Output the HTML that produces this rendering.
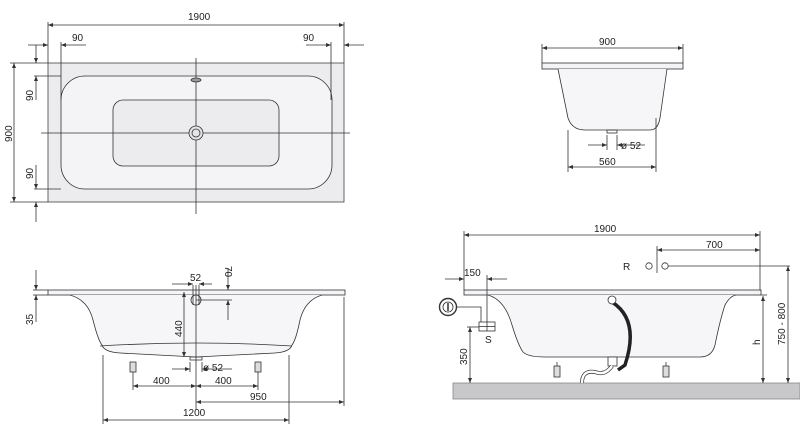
<!DOCTYPE html>
<html><head><meta charset="utf-8"><style>
html,body{margin:0;padding:0;background:#fff;width:800px;height:429px;overflow:hidden}
svg{display:block}
text{font-family:"Liberation Sans",sans-serif;font-size:10px;fill:#222}
</style></head><body>
<svg width="800" height="429" viewBox="0 0 800 429" xmlns="http://www.w3.org/2000/svg">
<defs>
<marker id="a" viewBox="0 0 10 10" refX="10" refY="5" markerWidth="7" markerHeight="5" orient="auto-start-reverse" markerUnits="userSpaceOnUse"><path d="M0,1 L10,5 L0,9z" fill="#333"/></marker>
</defs>
<g stroke="#333" stroke-width="0.8" fill="none">
<!-- TOP VIEW -->
<rect x="48" y="63" width="296" height="139" fill="#ececef" stroke="#444"/>
<rect x="61" y="76" width="271" height="113" rx="24" fill="#f4f4f6"/>
<rect x="113" y="100" width="166" height="66" rx="10" fill="#ececef"/>
<line x1="196" y1="58" x2="196" y2="214"/>
<line x1="41" y1="133" x2="350" y2="133"/>
<circle cx="196" cy="133" r="7" fill="#e4e4e6"/><circle cx="196" cy="133" r="4"/>
<ellipse cx="196" cy="80" rx="5" ry="2" fill="#999"/>
<line x1="48" y1="25" x2="344" y2="25" marker-start="url(#a)" marker-end="url(#a)"/>
<line x1="48" y1="22" x2="48" y2="63"/><line x1="344" y1="22" x2="344" y2="63"/>
<line x1="61" y1="42" x2="61" y2="100"/><line x1="331" y1="42" x2="331" y2="100"/>
<line x1="28" y1="45" x2="48" y2="45" marker-end="url(#a)"/><line x1="86" y1="45" x2="61" y2="45" marker-end="url(#a)"/>
<line x1="306" y1="45" x2="331" y2="45" marker-end="url(#a)"/><line x1="364" y1="45" x2="344" y2="45" marker-end="url(#a)"/>
<line x1="14" y1="63" x2="14" y2="202" marker-start="url(#a)" marker-end="url(#a)"/>
<line x1="10" y1="63" x2="48" y2="63"/><line x1="10" y1="202" x2="48" y2="202"/>
<line x1="34" y1="76" x2="61" y2="76"/><line x1="34" y1="189" x2="61" y2="189"/>
<line x1="36" y1="45" x2="36" y2="63" marker-end="url(#a)"/><line x1="36" y1="100" x2="36" y2="76" marker-end="url(#a)"/>
<line x1="36" y1="165" x2="36" y2="189" marker-end="url(#a)"/><line x1="36" y1="222" x2="36" y2="202" marker-end="url(#a)"/>
<!-- TOP RIGHT END VIEW -->
<rect x="542" y="63" width="141" height="6" fill="#f4f4f6"/>
<path d="M558,69 L568,118 Q572,130 585,130 L650,130 Q658,130 660,118 L667,69" fill="#f6f6f8"/>
<rect x="607" y="130" width="10" height="3"/>
<line x1="542" y1="48" x2="683" y2="48" marker-start="url(#a)" marker-end="url(#a)"/>
<line x1="542" y1="44" x2="542" y2="63"/><line x1="683" y1="44" x2="683" y2="63"/>
<line x1="568" y1="130" x2="568" y2="172"/><line x1="656" y1="118" x2="656" y2="172"/>
<line x1="568" y1="167" x2="656" y2="167" marker-start="url(#a)" marker-end="url(#a)"/>
<line x1="607" y1="135" x2="607" y2="150"/><line x1="617" y1="135" x2="617" y2="150"/>
<line x1="588" y1="145" x2="607" y2="145" marker-end="url(#a)"/><line x1="645" y1="145" x2="617" y2="145" marker-end="url(#a)"/>
<!-- BOTTOM LEFT SIDE VIEW -->
<rect x="48" y="290" width="297" height="5" fill="#f4f4f6"/>
<path d="M70,295 Q88,300 93,320 Q98,340 102,345 Q104,352 120,353 L196,357 L275,353 Q290,352 292,345 Q296,340 300,320 Q305,300 322,295" fill="#f6f6f8"/>
<path d="M100,346 Q196,340 292,346"/>
<rect x="190" y="357" width="12" height="3"/>
<circle cx="196" cy="300" r="5"/>
<line x1="193" y1="285" x2="193" y2="305"/><line x1="199" y1="285" x2="199" y2="305"/>
<line x1="172" y1="284" x2="193" y2="284" marker-end="url(#a)"/><line x1="212" y1="284" x2="199" y2="284" marker-end="url(#a)"/>
<line x1="196" y1="300" x2="232" y2="300"/>
<line x1="228" y1="268" x2="228" y2="290" marker-end="url(#a)"/><line x1="228" y1="320" x2="228" y2="300" marker-end="url(#a)"/>
<line x1="184" y1="292" x2="184" y2="357" marker-start="url(#a)" marker-end="url(#a)"/>
<line x1="196" y1="285" x2="196" y2="410"/>
<line x1="190" y1="362" x2="190" y2="372"/><line x1="202" y1="362" x2="202" y2="372"/>
<line x1="172" y1="369" x2="190" y2="369" marker-end="url(#a)"/><line x1="232" y1="369" x2="202" y2="369" marker-end="url(#a)"/>
<rect x="130" y="362" width="6" height="10" fill="#ddd"/><rect x="255" y="362" width="6" height="10" fill="#ddd"/>
<line x1="133" y1="372" x2="133" y2="390"/><line x1="258" y1="372" x2="258" y2="390"/>
<line x1="133" y1="386" x2="196" y2="386" marker-start="url(#a)" marker-end="url(#a)"/>
<line x1="196" y1="386" x2="258" y2="386" marker-start="url(#a)" marker-end="url(#a)"/>
<line x1="196" y1="402" x2="344" y2="402" marker-start="url(#a)" marker-end="url(#a)"/>
<line x1="344" y1="297" x2="344" y2="406"/>
<line x1="103" y1="355" x2="103" y2="424"/><line x1="289" y1="355" x2="289" y2="424"/>
<line x1="103" y1="420" x2="289" y2="420" marker-start="url(#a)" marker-end="url(#a)"/>
<line x1="36" y1="270" x2="36" y2="290" marker-end="url(#a)"/><line x1="36" y1="322" x2="36" y2="295" marker-end="url(#a)"/>
<line x1="33" y1="290" x2="48" y2="290"/><line x1="33" y1="295" x2="48" y2="295"/>
<!-- BOTTOM RIGHT -->
<rect x="453" y="383" width="347" height="16" fill="#c8c8ca" stroke="#888"/>
<rect x="464" y="290" width="297" height="5" fill="#f4f4f6"/>
<path d="M488,295 Q505,300 512,325 Q518,345 523,352 Q528,357 545,357 L700,357 Q712,357 715,345 Q720,320 725,305 Q730,296 736,295" fill="#f6f6f8"/>
<path d="M612,302 Q640,320 625,365 L618,370" stroke="#222" stroke-width="3.5"/>
<circle cx="612" cy="300" r="4" fill="#fff"/>
<rect x="608" y="357" width="9" height="9" fill="#fff"/>
<path d="M582,383 Q582,370 595,372 Q605,376 612,366" stroke-width="4" stroke="#444"/>
<path d="M582,383 Q582,370 595,372 Q605,376 612,366" stroke-width="2.4" stroke="#fff"/>
<rect x="554" y="366" width="6" height="11" fill="#ddd"/><rect x="663" y="366" width="6" height="11" fill="#ddd"/>
<line x1="557" y1="362" x2="557" y2="366"/><line x1="666" y1="362" x2="666" y2="366"/>
<line x1="464" y1="235" x2="760" y2="235" marker-start="url(#a)" marker-end="url(#a)"/>
<line x1="464" y1="231" x2="464" y2="290"/><line x1="760" y1="231" x2="760" y2="290"/>
<line x1="657" y1="246" x2="657" y2="273"/>
<line x1="657" y1="250" x2="760" y2="250" marker-start="url(#a)" marker-end="url(#a)"/>
<circle cx="649" cy="266" r="3.2"/><circle cx="665" cy="266" r="3.2"/>
<line x1="668" y1="266" x2="790" y2="266"/>
<line x1="445" y1="279" x2="464" y2="279" marker-end="url(#a)"/><line x1="507" y1="279" x2="487" y2="279" marker-end="url(#a)"/>
<line x1="487" y1="275" x2="487" y2="327"/>
<circle cx="448" cy="307" r="8.5" stroke-width="1.4"/><circle cx="448" cy="307" r="5"/><line x1="448" y1="303" x2="448" y2="311" stroke-width="1.5"/>
<path d="M457,307 L481,307 L481,322"/>
<rect x="479" y="322" width="16" height="9" fill="#fff"/><line x1="487" y1="322" x2="487" y2="331"/><line x1="479" y1="326.5" x2="495" y2="326.5"/>
<line x1="467" y1="327" x2="479" y2="327"/>
<line x1="470" y1="327" x2="470" y2="383" marker-start="url(#a)" marker-end="url(#a)"/>
<line x1="761" y1="295" x2="767" y2="295"/>
<line x1="763" y1="296" x2="763" y2="383" marker-start="url(#a)" marker-end="url(#a)"/>
<line x1="788" y1="266" x2="788" y2="383" marker-start="url(#a)" marker-end="url(#a)"/>
</g>
<!-- text -->
<text x="188" y="20">1900</text>
<text x="72" y="41">90</text>
<text x="303" y="41">90</text>
<text transform="translate(12,142) rotate(-90)">900</text>
<text transform="translate(33,101) rotate(-90)">90</text>
<text transform="translate(33,179) rotate(-90)">90</text>
<text x="599" y="45">900</text>
<text x="599" y="165">560</text>
<text x="621" y="149">ø 52</text>
<text x="190" y="281">52</text>
<text transform="translate(225,266) rotate(90)">70</text>
<text transform="translate(33,325) rotate(-90)">35</text>
<text transform="translate(182,337) rotate(-90)">440</text>
<text x="203" y="371">ø 52</text>
<text x="153" y="384">400</text>
<text x="215" y="384">400</text>
<text x="250" y="400">950</text>
<text x="183" y="416">1200</text>
<text x="594" y="232">1900</text>
<text x="706" y="248">700</text>
<text x="623" y="270">R</text>
<text x="464" y="276">150</text>
<text x="485" y="343">S</text>
<text transform="translate(467,365) rotate(-90)">350</text>
<text transform="translate(760,345) rotate(-90)">h</text>
<text transform="translate(785,345) rotate(-90)" font-size="9">750 - 800</text>
</svg>
</body></html>
